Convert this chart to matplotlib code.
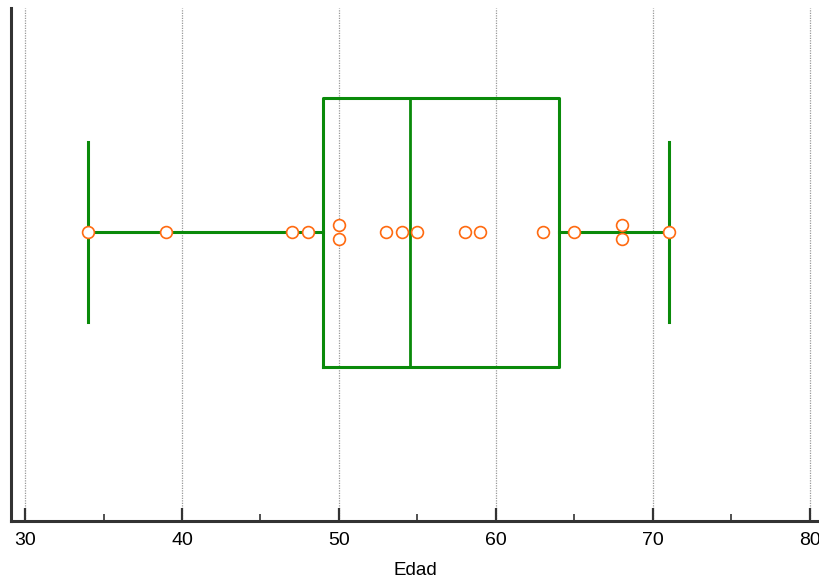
import numpy as np
import matplotlib
matplotlib.use("Agg")
import matplotlib.pyplot as plt

edad = [34, 39, 47, 48, 50, 50, 53, 54, 55, 58, 59, 63, 65, 68, 68, 71]
xticks = [30, 40, 50, 60, 70, 80]
xlabel = "Edad"

plt.rcParams['font.family'] = ['Liberation Sans', 'DejaVu Sans']

data = np.sort(np.array(edad, dtype=float))
n = len(data)
med = np.median(data)
lower = data[: n // 2] if n % 2 == 0 else data[: n // 2 + 1]
upper = data[n // 2:] if n % 2 == 0 else data[n // 2:]
q1, q3 = np.median(lower), np.median(upper)

W, H = 820, 583
fig = plt.figure(figsize=(W / 100, H / 100), dpi=100)
ax = fig.add_axes([11 / W, 62 / H, 809 / W, 513 / H])

xmin = 30 - 14 / 15.7
xmax = xmin + 809 / 15.7
ax.set_xlim(xmin, xmax)
ax.set_ylim(0, 1)

green = "#0a8a0a"
ypos = 0.563
stats = [dict(med=med, q1=q1, q3=q3, whislo=data.min(), whishi=data.max(), fliers=[])]
ax.bxp(stats, positions=[ypos], widths=0.524, vert=False, showfliers=False,
       capwidths=0.35,
       boxprops=dict(color=green, linewidth=2.2),
       medianprops=dict(color=green, linewidth=2.0),
       whiskerprops=dict(color=green, linewidth=2.2),
       capprops=dict(color=green, linewidth=2.2), manage_ticks=False)

# points, duplicates stacked
vals, counts = np.unique(data, return_counts=True)
xs, ys = [], []
for v, c in zip(vals, counts):
    offs = (np.arange(c) - (c - 1) / 2) * 0.027
    for o in offs:
        xs.append(v)
        ys.append(ypos + o)
ax.plot(xs, ys, 'o', markersize=8.5, markerfacecolor='white',
        markeredgecolor='#ff6a10', markeredgewidth=1.2, zorder=5, linestyle='none')

ax.set_xticks(xticks)
ax.set_xticks([35, 45, 55, 65, 75], minor=True)
ax.tick_params(axis='x', which='major', direction='in', length=9.5, width=1.6,
               color='#333333', labelsize=14, pad=8)
ax.tick_params(axis='x', which='minor', direction='in', length=5, width=1.2, color='#333333')
ax.set_yticks([])
for x in xticks:
    ax.axvline(x, color='#999999', linestyle=(0, (1, 1)), linewidth=0.9, zorder=0)

for s in ['top', 'right']:
    ax.spines[s].set_visible(False)
for s in ['left', 'bottom']:
    ax.spines[s].set_linewidth(2.2)
    ax.spines[s].set_color('#333333')

ax.set_xlabel(xlabel, fontsize=13.5, labelpad=9)

fig.savefig("out.png", dpi=100)
